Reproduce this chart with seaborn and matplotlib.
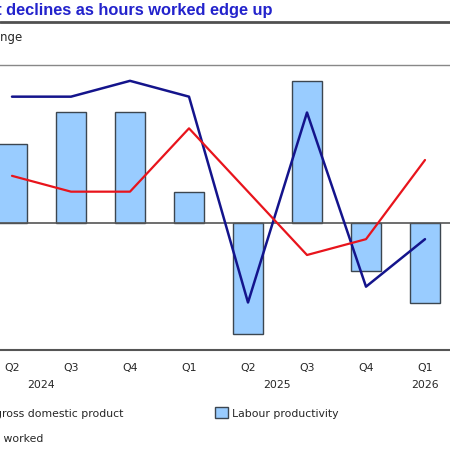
import numpy as np
import pandas as pd
import matplotlib
matplotlib.use("Agg")
import matplotlib.pyplot as plt
import seaborn as sns
from matplotlib.lines import Line2D
from matplotlib.patches import Patch

# ===== data (% change, quarter on quarter) =====
quarters = ["Q1", "Q2", "Q3", "Q4", "Q1", "Q2", "Q3", "Q4", "Q1"]
years = ["2024", "2025", "2026"]
year_pos = [1.5, 5.5, 8.0]
productivity = [np.nan, 0.5, 0.7, 0.7, 0.2, -0.7, 0.9, -0.3, -0.5]
gdp = [np.nan, 0.8, 0.8, 0.9, 0.8, -0.5, 0.7, -0.4, -0.1]
hours = [np.nan, 0.3, 0.2, 0.2, 0.6, 0.2, -0.2, -0.1, 0.4]

df = pd.DataFrame({
    "pos": range(len(quarters)),
    "productivity": productivity,
    "gdp": gdp,
    "hours": hours,
})

sns.set_style("white")
plt.rcParams["font.family"] = ["DejaVu Sans"]

fig = plt.figure(figsize=(4.5, 4.5), dpi=100)
# axes run past the left edge of the picture, like the cropped original
ax = fig.add_axes([-76.5 / 450, 100 / 450, 531 / 450, 285 / 450])

bar_col = "#99ccff"
edge_col = "#3c4650"
gdp_col = "#14148c"
hours_col = "#e8141c"

sns.barplot(data=df, x="pos", y="productivity", color=bar_col, width=0.5,
            edgecolor=edge_col, linewidth=1.0, saturation=1, ax=ax, native_scale=True)
sns.lineplot(data=df, x="pos", y="gdp", color=gdp_col, lw=1.8, ax=ax)
sns.lineplot(data=df, x="pos", y="hours", color=hours_col, lw=1.6, ax=ax)

ax.set_xlim(-0.5, 8.5)
ax.set_ylim(-0.8, 1.0)
ax.axhline(0, color="#555555", lw=1.2, zorder=1)
for s in ["left", "right"]:
    ax.spines[s].set_visible(False)
ax.spines["top"].set_color("#888888")
ax.spines["top"].set_linewidth(1.0)
ax.spines["bottom"].set_color("#555555")
ax.spines["bottom"].set_linewidth(1.5)
ax.set_yticks([])
ax.set_xticks(range(len(quarters)))
ax.set_xticklabels(quarters, fontsize=7.8)
ax.tick_params(axis="x", length=0, pad=9)
ax.set_xlabel("")
ax.set_ylabel("")
for yr, xp in zip(years, year_pos):
    ax.text(xp, -0.124, yr, transform=ax.get_xaxis_transform(),
            ha="center", va="center", fontsize=7.8)

# title, rule and unit label
fig.text(273 / 450, 1 - 10 / 450, "Output declines as hours worked edge up",
         ha="right", va="center", fontsize=11.8, fontweight="bold",
         color="#2323cc", family=["Liberation Sans", "DejaVu Sans"])
fig.add_artist(Line2D([0, 1], [1 - 22 / 450] * 2, color="#505050", lw=2))
fig.text(22 / 450, 1 - 38 / 450, "% change", ha="right", va="center", fontsize=8.5)

handles = [
    Line2D([], [], color=gdp_col, lw=1.8),
    Line2D([], [], color=hours_col, lw=1.6),
    Patch(facecolor=bar_col, edgecolor=edge_col, lw=1.0),
]
labels = ["Real gross domestic product", "Hours worked", "Labour productivity"]
fig.legend(handles, labels, ncol=2, loc="upper left",
           bbox_to_anchor=(-54 / 450, 1 - 403 / 450), frameon=False,
           fontsize=7.8, handlelength=1.2, handleheight=1.2, handletextpad=0.4,
           columnspacing=8.5, labelspacing=1.3, borderaxespad=0)

fig.savefig("out.png", dpi=100)
